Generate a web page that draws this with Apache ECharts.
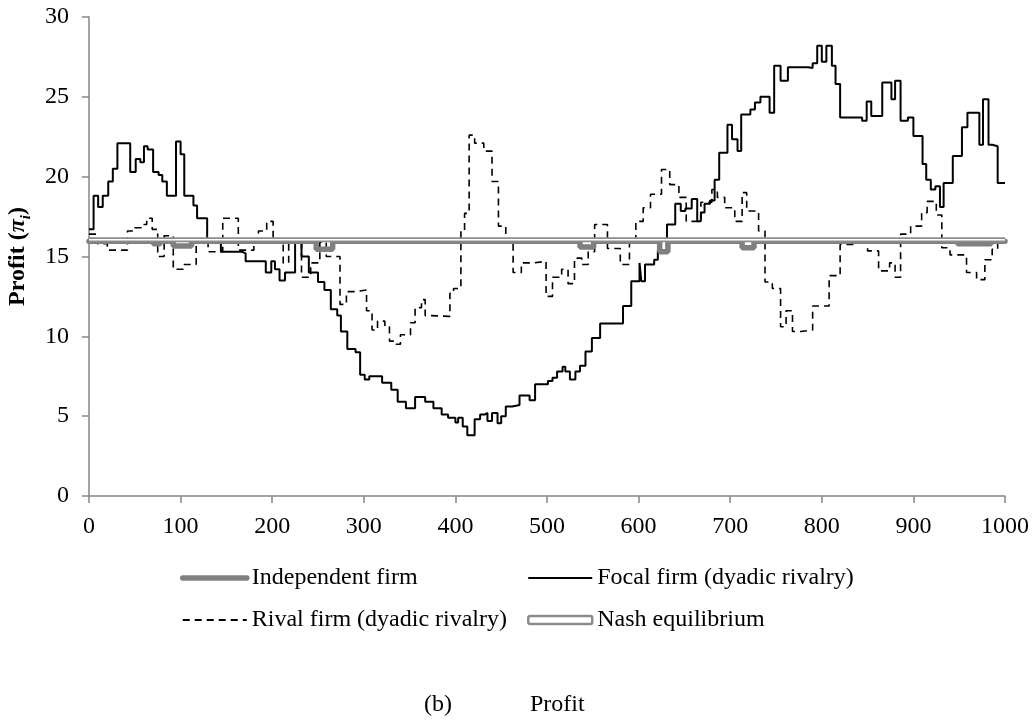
<!DOCTYPE html>
<html>
<head>
<meta charset="utf-8">
<title>Profit</title>
<script src="https://cdn.jsdelivr.net/npm/echarts@6/dist/echarts.min.js"></script>
<style>
    html, body { margin: 0; padding: 0; background: #fff; }
    #profit_show { width: 1035px; height: 725px; }
</style>
</head>
<body>
<div id="profit_show"></div>
<script>
// 时间刻度 (x 轴)
var xTicks = [0, 100, 200, 300, 400, 500, 600, 700, 800, 900, 1000];
var yTicks = [0, 5, 10, 15, 20, 25, 30];

// Focal firm (dyadic rivalry) - 阶梯线的转折点
var focalX = [0, 5, 10, 15, 21, 26, 31, 45, 51, 56, 60, 64, 70, 76, 80, 85, 95, 100, 104, 114, 118, 129,
    144, 167, 171, 193, 199, 203, 208, 214, 225, 232, 240, 250, 257, 264, 271, 275, 282, 291, 296, 301,
    306, 320, 330, 337, 346, 356, 367, 376, 385, 392, 400, 403, 408, 413, 421, 427, 432, 435, 440, 446,
    450, 455, 462, 470, 481, 487, 501, 506, 511, 517, 520, 525, 531, 536, 542, 549, 558, 583, 592, 601,
    603, 607, 617, 621, 631, 640, 646, 651, 658, 664, 668, 672, 678, 683, 688, 697, 702, 708, 712, 722,
    727, 733, 743, 748, 755, 763, 785, 790, 795, 800, 805, 811, 815, 820, 844, 849, 854, 866, 876, 880,
    886, 894, 900, 910, 914, 919, 924, 929, 933, 943, 953, 959, 972, 976, 982, 986, 992, 1000];
var focalY = [16.7, 18.8, 18.1, 18.8, 19.7, 20.5, 22.1, 20.3, 21.1, 20.9, 21.9, 21.7, 20.3, 20.1, 19.7, 18.8, 22.2, 21.4, 18.8, 18.2, 17.4, 16.0,
    15.3, 15.2, 14.7, 14.0, 14.7, 14.2, 13.5, 14.0, 16.0, 15.0, 14.0, 13.4, 12.9, 11.7, 11.3, 10.3, 9.2, 9.0, 7.6, 7.3,
    7.5, 7.1, 6.65, 5.9, 5.5, 6.2, 5.9, 5.5, 5.1, 4.9, 4.6, 4.9, 4.35, 3.8, 4.8, 5.1, 5.2, 4.7, 5.2, 4.55,
    5.0, 5.6, 5.7, 6.3, 6.0, 7.0, 7.2, 7.4, 7.8, 8.1, 7.8, 7.3, 7.8, 8.15, 9.05, 9.9, 10.8, 11.9, 13.45, 14.6,
    13.45, 14.5, 14.8, 15.4, 17.0, 18.3, 17.85, 18.0, 18.6, 17.2, 17.75, 18.3, 18.5, 19.8, 21.5, 23.25, 22.35, 21.6, 23.9, 24.2,
    24.65, 25.0, 24.0, 26.95, 26.0, 26.85, 26.8, 27.1, 28.2, 27.2, 28.2, 26.95, 25.8, 23.7, 23.5, 24.7, 23.8, 25.9, 24.85, 26.0,
    23.5, 23.7, 22.55, 20.8, 19.8, 19.2, 19.4, 18.1, 19.6, 21.3, 23.1, 24.0, 22.0, 24.85, 22.0, 21.9, 19.6, 19.6];

// Rival firm (dyadic rivalry)
var rivalX = [0, 9, 20, 42, 50, 57, 63, 69, 75, 82, 92, 103, 117, 130, 146, 163, 180, 185, 194, 201, 212,
    218, 232, 242, 252, 259, 274, 281, 290, 303, 309, 315, 323, 328, 333, 340, 351, 356, 363, 367, 372,
    394, 398, 406, 410, 415, 421, 431, 440, 447, 455, 463, 472, 486, 499, 506, 516, 523, 530, 538, 545,
    552, 566, 580, 590, 597, 605, 613, 625, 634, 644, 652, 668, 680, 686, 694, 705, 713, 718, 731, 738,
    746, 755, 761, 768, 777, 790, 808, 820, 838, 850, 862, 874, 880, 886, 897, 909, 915, 925, 931, 940,
    958, 969, 978, 986, 992, 1000];
var rivalY = [16.4, 15.8, 15.4, 16.6, 16.8, 17.0, 17.4, 16.7, 15.0, 16.3, 14.2, 14.5, 16.0, 15.3, 17.4, 15.4, 16.0, 16.6, 17.2, 16.0, 14.6,
    16.0, 13.7, 14.6, 15.9, 15.0, 12.0, 12.8, 12.9, 11.6, 10.4, 10.95, 10.6, 9.7, 9.5, 10.1, 10.85, 11.8, 12.3, 11.3, 11.25,
    12.7, 13.0, 16.6, 17.7, 22.6, 22.1, 21.6, 19.7, 16.9, 16.0, 14.0, 14.6, 14.7, 12.5, 13.7, 14.2, 13.3, 14.9, 14.5, 15.3,
    17.0, 15.5, 14.5, 16.1, 17.2, 18.05, 18.9, 20.45, 19.5, 18.7, 17.2, 18.4, 19.2, 18.7, 18.05, 17.2, 19.0, 17.85, 16.6, 13.4,
    13.0, 10.6, 11.6, 10.3, 10.4, 11.9, 13.8, 15.75, 16.1, 15.35, 14.1, 14.6, 13.7, 16.4, 16.9, 17.75, 18.45, 17.6, 15.55, 15.1,
    14.0, 13.55, 14.8, 15.45, 16.1, 16.1];

// Independent firm
var indepX = [0, 70, 78, 92, 112, 248, 266, 536, 551, 623, 632, 713, 726, 948, 985, 1000];
var indepY = [15.95, 15.8, 15.95, 15.65, 15.95, 15.45, 15.95, 15.6, 15.95, 15.3, 15.95, 15.55, 15.95, 15.8, 15.95, 15.95];

// Nash equilibrium
var nashX = [0, 1000];
var nashY = [16.05, 16.05];

function pairs(xs, ys) {
    var out = [];
    for (var i = 0; i < xs.length; i++) {
        out.push([xs[i], ys[i]]);
    }
    return out;
}

var serif = '"Liberation Serif", "Times New Roman", serif';
var axisGray = '#868686';
var fs = 24;
var legendText = { fontFamily: serif, fontSize: fs, color: '#000' };
var noDot = { opacity: 0 };   // 图例里不画圆点

var myChart = echarts.init(document.getElementById('profit_show'));

var option = {
    animation: false,
    title: [
        { text: '(b)', left: 419, top: 688, textStyle: { fontFamily: serif, fontSize: fs, fontWeight: 'normal', color: '#000' } },
        { text: 'Profit', left: 525, top: 688, textStyle: { fontFamily: serif, fontSize: fs, fontWeight: 'normal', color: '#000' } }
    ],
    legend: [
        {
            orient: 'vertical',
            left: 175,
            top: 561,
            itemWidth: 64,
            itemHeight: 8,
            itemGap: 18,
            textStyle: legendText,
            data: [
                { name: 'Independent firm', itemStyle: noDot, lineStyle: { width: 5.5, color: '#808080', cap: 'round' } },
                { name: 'Rival firm (dyadic rivalry)', itemStyle: noDot, lineStyle: { width: 1.8, color: '#000', type: [7, 5] } }
            ]
        },
        {
            orient: 'vertical',
            left: 522,
            top: 561,
            itemWidth: 64,
            itemHeight: 8,
            itemGap: 18,
            textStyle: legendText,
            data: [
                { name: 'Focal firm (dyadic rivalry)', itemStyle: noDot, lineStyle: { width: 2, color: '#000' } },
                {
                    name: 'Nash equilibrium',
                    icon: 'roundRect',
                    itemStyle: { color: '#fff', borderColor: '#8c8c8c', borderWidth: 2.5 }
                }
            ]
        }
    ],
    grid: {
        left: 89,
        right: 30,
        top: 17,
        bottom: 229,
        outerBoundsMode: 'none'
    },
    xAxis: {
        type: 'value',
        min: xTicks[0],
        max: xTicks[xTicks.length - 1],
        interval: 100,
        axisLine: { lineStyle: { color: axisGray, width: 1.5 } },
        axisTick: { length: 7, lineStyle: { color: axisGray, width: 1.5 } },
        splitLine: { show: false },
        axisLabel: {
            margin: 19, fontFamily: serif, fontSize: fs, color: '#000',
            formatter: function (v) { return String(v); }
        }
    },
    yAxis: {
        type: 'value',
        min: yTicks[0],
        max: yTicks[yTicks.length - 1],
        interval: 5,
        name: '{a|Profit (}{p|π}{s|i}{a|)}',
        nameLocation: 'middle',
        nameRotate: 90,
        nameGap: 54,
        nameTextStyle: {
            rich: {
                a: { fontFamily: serif, fontSize: fs, fontWeight: 'bold', color: '#000', lineHeight: 32, verticalAlign: 'middle' },
                p: { fontFamily: serif, fontSize: fs, fontWeight: 'bold', fontStyle: 'italic', color: '#000', lineHeight: 32, verticalAlign: 'middle' },
                s: { fontFamily: serif, fontSize: 15, fontWeight: 'bold', fontStyle: 'italic', color: '#000', lineHeight: 32, verticalAlign: 'bottom' }
            }
        },
        axisLine: { show: true, lineStyle: { color: axisGray, width: 1.5 } },
        axisTick: { show: true, length: 7, lineStyle: { color: axisGray, width: 1.5 } },
        splitLine: { show: false },
        axisLabel: { margin: 20, fontFamily: serif, fontSize: fs, color: '#000' }
    },
    series: [
        {
            name: 'Focal firm (dyadic rivalry)',
            type: 'line',
            step: 'end',
            symbol: 'none',
            lineStyle: { color: '#000', width: 2 },
            itemStyle: { color: '#000' },
            data: pairs(focalX, focalY),
            z: 2
        },
        {
            name: 'Rival firm (dyadic rivalry)',
            type: 'line',
            step: 'end',
            symbol: 'none',
            lineStyle: { color: '#000', width: 1.6, type: [7, 5] },
            itemStyle: { color: '#000' },
            data: pairs(rivalX, rivalY),
            z: 3
        },
        {
            name: 'Independent firm',
            type: 'line',
            step: 'end',
            symbol: 'none',
            lineStyle: { color: '#808080', width: 5.5, cap: 'round' },
            itemStyle: { color: '#808080' },
            data: pairs(indepX, indepY),
            z: 4
        },
        {
            name: 'Nash equilibrium',
            type: 'line',
            symbol: 'none',
            lineStyle: { color: '#8c8c8c', width: 5 },
            itemStyle: { color: '#8c8c8c' },
            data: pairs(nashX, nashY),
            z: 5
        },
        {
            // 双线效果的白色内线
            name: 'nash_inner',
            type: 'line',
            symbol: 'none',
            silent: true,
            lineStyle: { color: '#fff', width: 1.5 },
            data: pairs(nashX, nashY),
            z: 6
        }
    ]
};

myChart.setOption(option);
</script>
</body>
</html>
